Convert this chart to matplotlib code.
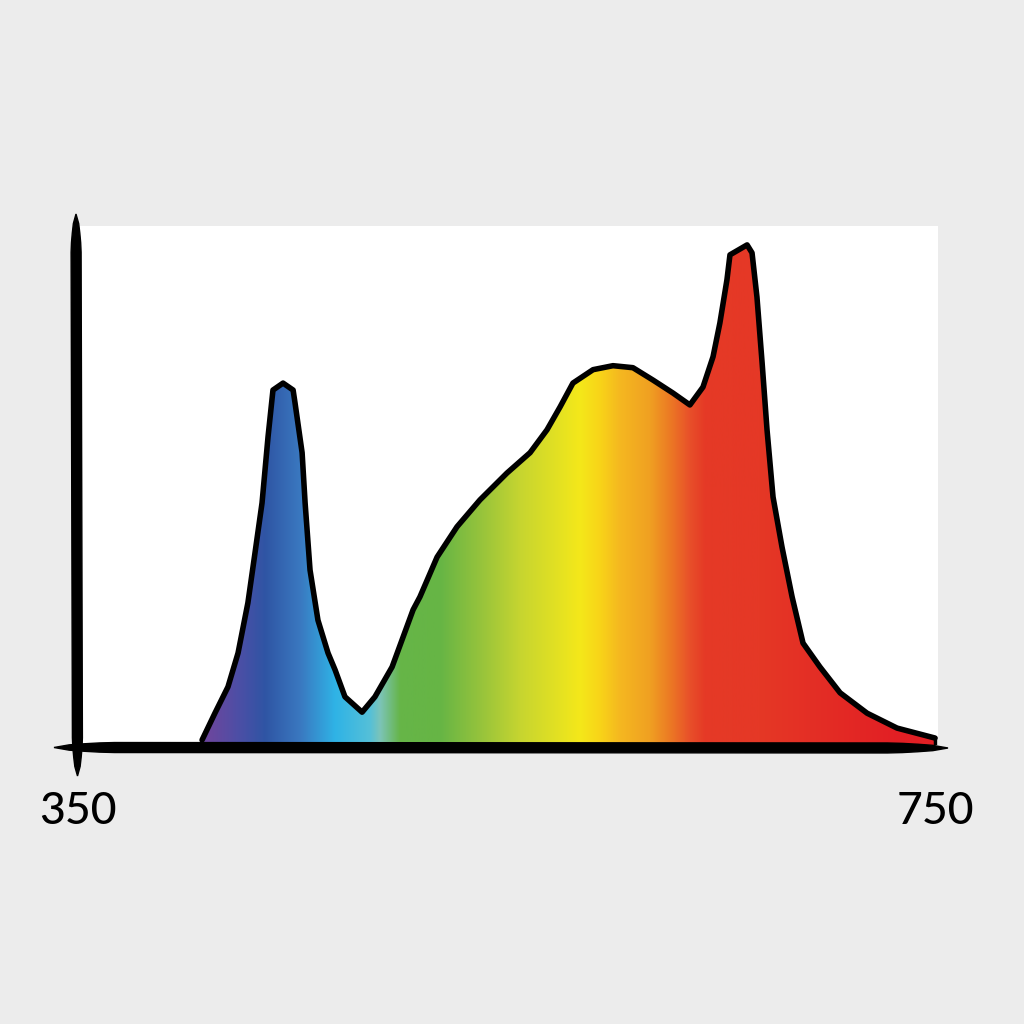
import numpy as np
import matplotlib
matplotlib.use("Agg")
import matplotlib.pyplot as plt
from matplotlib.colors import LinearSegmentedColormap, to_rgb
from matplotlib.patches import Polygon

# ── data: LED grow-light spectrum (relative intensity, % of red peak) ─────────
wavelength = [407.9, 413.9, 420.0, 424.7, 429.3, 432.6, 435.9, 438.7, 441.0,
              445.7, 450.4, 451.3, 454.6, 456.0, 458.3, 462.0, 466.7, 470.0,
              474.6, 482.6, 488.6, 496.6, 506.4, 509.6, 517.6, 526.9, 537.6,
              550.2, 561.0, 568.9, 575.0, 581.0, 590.4, 599.7, 609.0, 618.4,
              627.7, 635.6, 641.7, 646.4, 649.6, 652.9, 654.3, 662.3, 664.6,
              666.9, 669.3, 671.6, 674.4, 678.6, 683.3, 688.4, 696.3, 705.7,
              718.3, 732.3, 750.0]
intensity = [0.6, 6.0, 11.3, 18.1, 28.2, 38.2, 48.3, 61.6, 71.0,
             72.4, 71.0, 68.4, 58.4, 48.3, 34.8, 24.7, 18.1, 14.7,
             9.3, 6.2, 9.3, 15.3, 26.8, 29.4, 37.4, 43.5, 48.9,
             54.3, 58.4, 63.0, 67.6, 72.4, 75.1, 75.9, 75.5, 73.0,
             70.4, 68.0, 71.6, 77.7, 84.5, 93.2, 98.2, 100.2, 98.6,
             89.7, 76.5, 63.0, 49.5, 39.4, 29.4, 20.1, 15.3, 10.1,
             6.0, 3.0, 1.0]
tick_values = [350, 750]
tick_labels = ["350", "750"]

# colour stops of the spectrum fill (wavelength, colour)
stop_nm = [350, 411.6, 425.6, 437.3, 453.6, 470.0, 486.3, 491.0, 500.3, 519.0,
           537.6, 556.3, 584.3, 593.6, 603.0, 617.0, 626.3, 635.6, 642.6,
           668.3, 733.7, 751.4]
stop_col = ["#6a479e", "#6a479e", "#4b4fa6", "#2f55a4", "#3a78c0", "#2fb3e6",
            "#55c0d8", "#7cc4b8", "#66b548", "#66b545", "#95c33c", "#c6d530",
            "#f4e81a", "#f8d418", "#f5b820", "#f0a022", "#ec7a24", "#e8502a",
            "#e53a26", "#e53826", "#e21f24", "#e21f24"]

XMIN, XMAX = 350, 751.4
YMIN, YMAX = -0.4, 104.0
W = H = 1024

fig = plt.figure(figsize=(10.24, 10.24), dpi=100, facecolor="#ececec")
ax = fig.add_axes([78 / W, 1 - 745 / H, (938 - 78) / W, (745 - 226) / H])
ax.set_facecolor("white")
ax.set_xlim(XMIN, XMAX)
ax.set_ylim(YMIN, YMAX)
for s in ax.spines.values():
    s.set_visible(False)
ax.set_yticks([])
ax.set_xticks(tick_values, tick_labels)
ax.tick_params(axis="x", length=0, pad=33, labelsize=32)
for lab in ax.get_xticklabels():
    lab.set_fontfamily("Lato")
    lab.set_fontweight("medium")

# gradient fill clipped to the spectrum outline
pos = [(v - XMIN) / (XMAX - XMIN) for v in stop_nm]
cmap = LinearSegmentedColormap.from_list(
    "spec", list(zip(pos, [to_rgb(c) for c in stop_col])), N=1024)
grad = np.linspace(0, 1, 1024)[None, :]
img = ax.imshow(grad, cmap=cmap, extent=[XMIN, XMAX, YMIN, YMAX],
                aspect="auto", origin="lower", zorder=1)
clip = Polygon(np.column_stack([wavelength + wavelength[::-1],
                                intensity + [YMIN] * len(intensity)]),
               closed=True, transform=ax.transData)
img.set_clip_path(clip)
ax.plot(wavelength, intensity, color="black", lw=4,
        solid_joinstyle="round", solid_capstyle="round", zorder=3)
ax.plot([wavelength[-1], wavelength[-1]], [intensity[-1], 0], color="black",
        lw=2.5, zorder=3)


def tapered(x0, y0, x1, y1, width, n=60):
    """hand-drawn stroke with pointed ends, pixel coords (origin top-left)."""
    t = np.linspace(0, 1, n)
    prof = np.clip(np.minimum(t, 1 - t) / 0.06, 0, 1) ** 0.5 * width / 2
    dx, dy = x1 - x0, y1 - y0
    L = np.hypot(dx, dy)
    nx, ny = -dy / L, dx / L
    xs, ys = x0 + dx * t, y0 + dy * t
    pts = np.concatenate([np.column_stack([xs + nx * prof, ys + ny * prof]),
                          np.column_stack([xs - nx * prof, ys - ny * prof])[::-1]])
    pts[:, 0] /= W
    pts[:, 1] = 1 - pts[:, 1] / H
    fig.add_artist(Polygon(pts, closed=True, color="black",
                           transform=fig.transFigure, zorder=5))


tapered(76, 214, 77.5, 776, 10)     # y axis
tapered(54, 747.5, 948, 748, 10)    # x axis

fig.savefig("out.png", dpi=100, facecolor=fig.get_facecolor())
